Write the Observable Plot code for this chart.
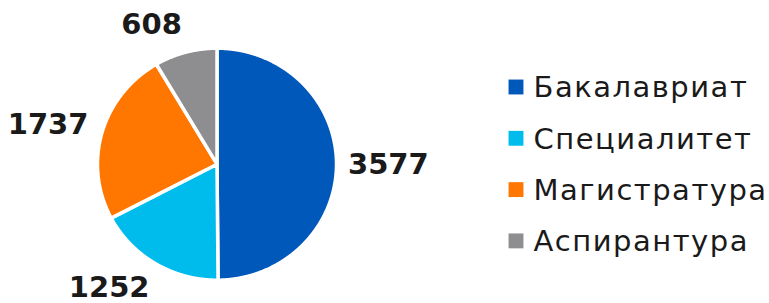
<!DOCTYPE html>
<html>
<head>
<meta charset="utf-8">
<script src="https://cdn.jsdelivr.net/npm/d3@7"></script>
<script src="https://cdn.jsdelivr.net/npm/@observablehq/plot@0.6"></script>
<style>
  html, body { margin: 0; padding: 0; background: #fff; }
  #chart svg { display: block; }
</style>
</head>
<body>
<div id="chart"></div>
<script>
// ---- data ----
const categories = ["Бакалавриат", "Специалитет", "Магистратура", "Аспирантура"];
const values = [3577, 1252, 1737, 608];
const colors = ["#0158BB", "#00BCEC", "#FF7700", "#8E8E90"];

// ---- layout ----
const W = 769, H = 303;
const cx = 216.5, cy = 163.7, Rx = 119.5, Ry = 116; // pixel centre & radii
const xDomain = [-cx / Rx, (W - cx) / Rx];
const yDomain = [-(H - cy) / Ry, cy / Ry];

const arcs = d3.pie().sort(null).value(d => d)(values);

// polygon points for each slice, in unit coordinates (y up)
const slicePts = arcs.map((a, i) => {
  const pts = [{cat: categories[i], x: 0, y: 0}];
  const n = Math.max(2, Math.ceil((a.endAngle - a.startAngle) / 0.005));
  for (let k = 0; k <= n; k++) {
    const t = a.startAngle + (a.endAngle - a.startAngle) * k / n;
    pts.push({cat: categories[i], x: Math.sin(t), y: Math.cos(t)});
  }
  return pts;
});

const labelR = 1.3;
const nudges = [[16, 1], [-28, -6], [-19.5, 1.5], [-24.5, 6.3]];
const labels = arcs.map((a, i) => {
  const m = (a.startAngle + a.endAngle) / 2;
  return {v: values[i], x: labelR * Math.sin(m), y: labelR * Math.cos(m), dx: nudges[i][0], dy: nudges[i][1]};
});

// legend rows in unit coords
const legendRows = categories.map((c, i) => ({
  cat: c,
  x: (515.5 - cx) / Rx,
  y: (cy - (86.5 + i * 51.3)) / Ry
}));

const chart = Plot.plot({
  width: W,
  height: H,
  margin: 0,
  x: {domain: xDomain, axis: null},
  y: {domain: yDomain, axis: null},
  style: {fontFamily: "DejaVu Sans, sans-serif", background: "#fff"},
  marks: [
    ...slicePts.map((pts, i) => Plot.line(pts, {
      x: "x", y: "y", curve: "linear-closed",
      fill: colors[i], stroke: "#fff", strokeWidth: 3.5, strokeLinejoin: "round"
    })),
    ...labels.map(l => Plot.text([l], {
      x: "x", y: "y", text: d => String(d.v), dx: l.dx, dy: l.dy,
      fontSize: 29, fontWeight: 700, fill: "#1a1a1a"
    })),
    Plot.dot(legendRows, {
      x: "x", y: "y", symbol: "square", r: 8.4,
      fill: (d, i) => colors[i], stroke: null
    }),
    Plot.text(legendRows, {
      x: "x", y: "y", text: "cat", dx: 17.5, dy: 1,
      textAnchor: "start", fontSize: 29, fill: "#1a1a1a"
    })
  ]
});

// widen legend lettering a little to match the reference typeface
d3.select(chart).selectAll("text")
  .filter(function() { return categories.includes(this.textContent); })
  .style("letter-spacing", "1.5px");

document.getElementById("chart").append(chart);
</script>
</body>
</html>
